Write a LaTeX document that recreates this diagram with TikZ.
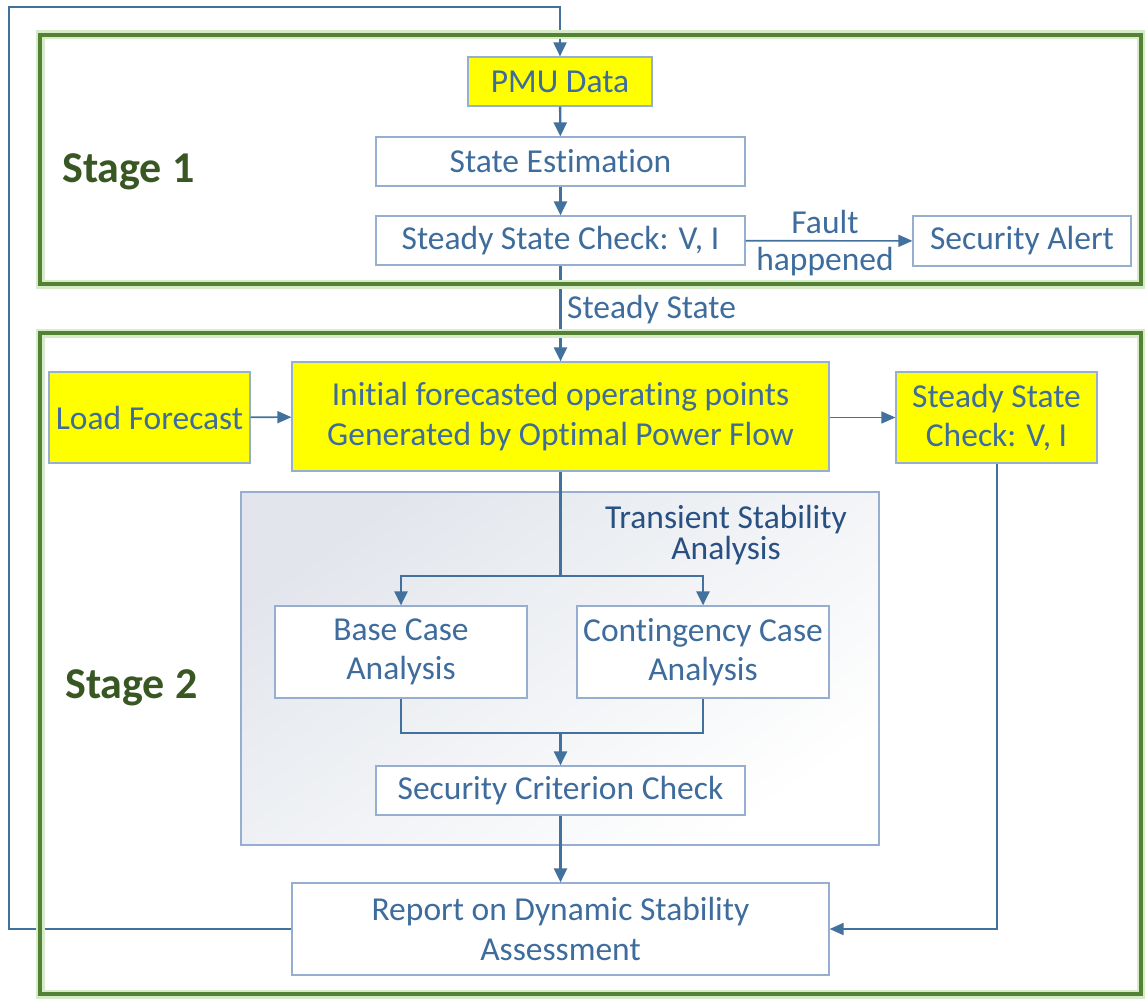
\documentclass[tikz,border=0pt]{standalone}
\usepackage{fontspec}
\setmainfont{Carlito}[Ligatures=NoCommon]
\usetikzlibrary{arrows.meta,shadings}
\definecolor{txtblue}{RGB}{62,108,156}
\definecolor{navy}{RGB}{40,80,130}
\definecolor{edgeblue}{RGB}{150,175,208}
\definecolor{linkblue}{RGB}{65,113,156}
\definecolor{framegreen}{RGB}{84,130,53}
\definecolor{glowgreen}{RGB}{215,234,202}
\definecolor{stagegreen}{RGB}{56,87,35}
\definecolor{hilite}{RGB}{255,255,0}
\definecolor{panelgrey}{RGB}{226,230,236}
\tikzset{
  box/.style={draw=edgeblue, line width=1.2pt, fill=white, inner sep=0pt,
    text=txtblue, font=\fontsize{33.5}{39.5}\selectfont, align=center},
  ybox/.style={box, fill=hilite},
  link/.style={draw=linkblue, line width=2.4pt, -{Triangle[length=14pt,width=13pt]}},
  thinlink/.style={draw=linkblue, line width=1.6pt, -{Triangle[length=14pt,width=12pt]}},
  plain/.style={draw=linkblue, line width=2.4pt},
  lbl/.style={text=txtblue, font=\fontsize{33.5}{39.5}\selectfont, inner sep=0pt, align=center},
  stagelbl/.style={text=stagegreen, font=\fontsize{44}{50}\bfseries\selectfont, inner sep=0pt},
  glow/.style={draw=glowgreen, line width=9pt},
  frame/.style={draw=framegreen, line width=4pt}
}
\begin{document}
\begin{tikzpicture}[x=1pt,y=-1pt]
\useasboundingbox (0,0) rectangle (1145,998);

% shaded panel for the transient stability part
\node[draw=edgeblue, line width=1.2pt, inner sep=0pt, minimum width=638pt, minimum height=353pt,
  top color=panelgrey, bottom color=white, shading angle=35] (tsa) at (560,668.5) {};
\node[lbl, text=navy, font=\fontsize{33.5}{31}\selectfont] (tsalbl) at (726,535) {Transient Stability\\Analysis};

% stage 1 blocks
\node[ybox, minimum width=184pt, minimum height=49pt] (pmu) at (560,81.5) {PMU Data};
\node[box, minimum width=369pt, minimum height=49pt] (se) at (560.5,161.5) {State Estimation};
\node[box, minimum width=369pt, minimum height=49pt] (ssc) at (560.5,240.5) {Steady State Check: V, I};
\node[box, minimum width=218pt, minimum height=50pt] (alert) at (1022,241) {Security Alert};

% stage 2 blocks
\node[ybox, minimum width=201pt, minimum height=91pt] (load) at (149.5,417.5) {Load Forecast};
\node[ybox, minimum width=537pt, minimum height=109pt] (init) at (560.5,416.5)
  {Initial forecasted operating points\\Generated by Optimal Power Flow};
\node[ybox, minimum width=201pt, minimum height=91pt] (ssc2) at (996.5,417.5) {Steady State\\Check: V, I};
\node[box, minimum width=252pt, minimum height=92pt] (base) at (401,652) {Base Case\\Analysis};
\node[box, minimum width=252pt, minimum height=92pt] (cont) at (703,652) {Contingency Case\\Analysis};
\node[box, minimum width=369pt, minimum height=49pt] (crit) at (560.5,790.5) {Security Criterion Check};
\node[box, minimum width=537pt, minimum height=92pt] (rep) at (560.5,929) {Report on Dynamic Stability\\Assessment};

% connectors
\coordinate (loopc) at (9,7);
\draw[link, line width=2pt] (rep.west) -| (loopc) -| (pmu.north);
\draw[link] (pmu) -- (se);
\draw[link] (se) -- (ssc);
\draw[thinlink] (ssc) -- (alert);
\node[lbl] (fault) at (825,222) {Fault};
\node[lbl] (happ) at (825,262) {happened};
\draw[link] (ssc) -- (init);
\node[lbl, anchor=west] (steady) at (567,310) {Steady State};
\draw[thinlink] (load) -- (init);
\draw[thinlink] (init.east |- ssc2.west) -- (ssc2.west);

\coordinate (split) at (560.5,576);
\draw[plain] (init.south) -- (split);
\draw[link] (split) -| (base.north);
\draw[link] (split) -| (cont.north);
\coordinate (join) at (560.5,733);
\draw[plain] (base.south) |- (join);
\draw[plain] (cont.south) |- (join);
\draw[link] (join) -- (crit.north);
\draw[link] (crit) -- (rep);
\draw[thinlink, line width=2pt] (ssc2.south) |- (rep.east);

% stage frames
\foreach \t/\b in {35/284, 333/994}{
  \draw[glow] (40,\t) rectangle (1141,\b);
  \draw[frame] (40,\t) rectangle (1141,\b);
}
\node[stagelbl, anchor=west] (s1) at (62,172) {Stage 1};
\node[stagelbl, anchor=west] (s2) at (65,688) {Stage 2};
\end{tikzpicture}
\end{document}
